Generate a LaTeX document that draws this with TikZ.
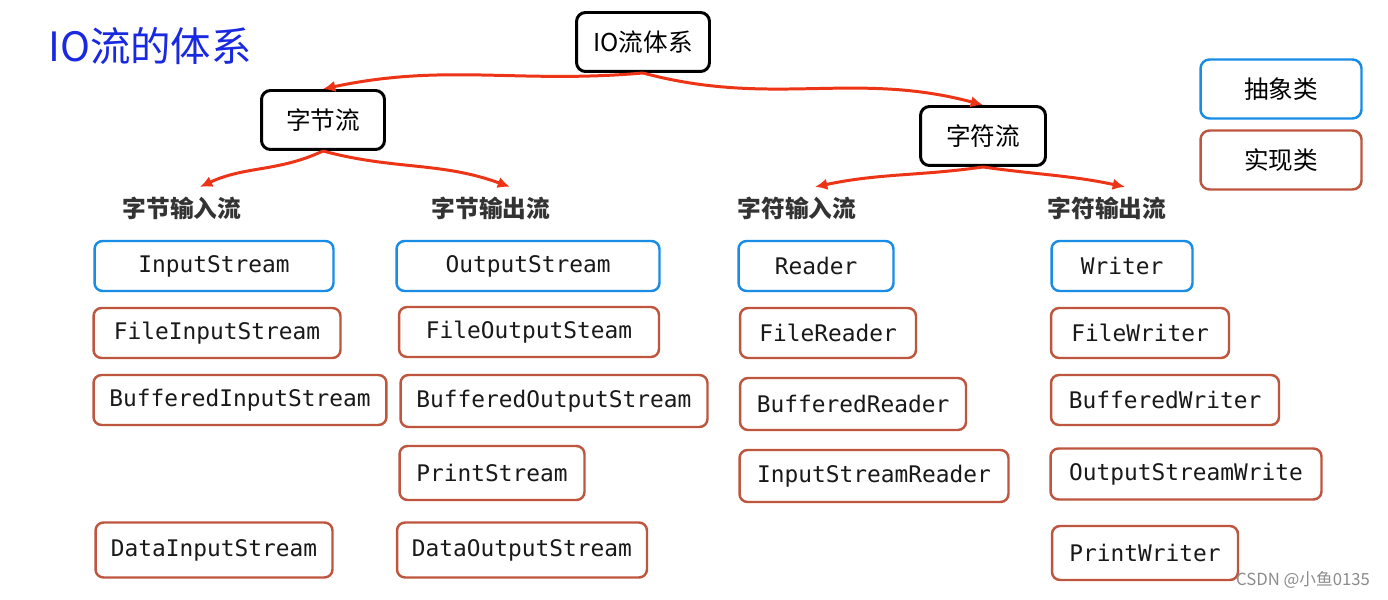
\documentclass[tikz,border=0pt]{standalone}
\usepackage{fontspec}
\setmainfont{Noto Sans CJK SC}
\setmonofont{DejaVu Sans Mono}
\usepackage{xcolor}
\usetikzlibrary{arrows.meta}
\definecolor{absblue}{RGB}{25,140,230}
\definecolor{implbrown}{RGB}{190,85,62}
\definecolor{arrowred}{RGB}{238,52,22}
\definecolor{titleblue}{RGB}{25,40,225}

\begin{document}
\begin{tikzpicture}[x=0.02cm,y=0.02cm,
	box/.style={rounded corners=0.16cm,line width=1.4pt,minimum height=1cm,text=black!90,font=\ttfamily\fontsize{13}{15}\selectfont},
	absbox/.style={box,draw=absblue},
	implbox/.style={box,draw=implbrown},
	topbox/.style={draw=black,rounded corners=0.18cm,line width=1.7pt,minimum height=1.18cm,font=\fontsize{14}{16}\selectfont},
	legendbox/.style={rounded corners=0.18cm,line width=1.4pt,minimum width=3.22cm,minimum height=1.18cm,font=\fontsize{14}{16}\selectfont},
	branch/.style={text=black!80,font=\bfseries\fontsize{13.5}{16}\selectfont},
	flow/.style={-{Latex[length=7pt,width=6.5pt]},draw=arrowred,line width=1.7pt}]
		\fill[white] (0,0) rectangle (1388,599);
		\useasboundingbox (0,0) rectangle (1388,599);
		\node[text=titleblue,font=\fontsize{23}{26}\selectfont] (title) at (150,553) {IO流的体系};
		\node[topbox,minimum width=2.66cm] (io) at (643,557) {IO流体系};
		\node[topbox,minimum width=2.46cm] (byte) at (323,479) {字节流};
		\node[topbox,minimum width=2.5cm] (char) at (983,463) {字符流};
		\node[legendbox,draw=absblue] (abs) at (1281,510) {抽象类};
		\node[legendbox,draw=implbrown] (impl) at (1281,439) {实现类};
		\node[branch] (bin) at (182,391) {字节输入流};
		\node[branch] (bout) at (491,391) {字节输出流};
		\node[branch] (cin) at (797,391) {字符输入流};
		\node[branch] (cout) at (1107,391) {字符输出流};
		\draw[flow] (io.south) to[out=185,in=12] (byte.north);
		\draw[flow] (io.south) to[out=-15,in=165] (char.north);
		\draw[flow] (byte.south) to[out=205,in=25] ([xshift=0.36cm,yshift=2pt]bin.north);
		\draw[flow] (byte.south) to[out=-15,in=160] ([xshift=0.38cm,yshift=2pt]bout.north);
		\draw[flow] (char.south) to[out=188,in=12] ([xshift=0.36cm,yshift=2pt]cin.north);
		\draw[flow] (char.south) to[out=-8,in=168] ([xshift=0.36cm,yshift=2pt]cout.north);
		\node[absbox,minimum width=4.78cm] (in) at (214,333) {InputStream};
		\node[implbox,minimum width=4.94cm] (fin) at (217,266) {FileInputStream};
		\node[implbox,minimum width=5.86cm] (bufin) at (240,199) {BufferedInputStream};
		\node[implbox,minimum width=4.74cm,minimum height=1.1cm] (din) at (214,49) {DataInputStream};
		\node[absbox,minimum width=5.26cm] (out) at (528,333) {OutputStream};
		\node[implbox,minimum width=5.2cm] (fout) at (529,267) {FileOutputSteam};
		\node[implbox,minimum width=6.14cm,minimum height=1.04cm] (bufout) at (554,198) {BufferedOutputStream};
		\node[implbox,minimum width=3.7cm,minimum height=1.08cm] (pout) at (492,126) {PrintStream};
		\node[implbox,minimum width=5cm,minimum height=1.1cm] (dout) at (522,49) {DataOutputStream};
		\node[absbox,minimum width=3.1cm] (rd) at (816,333) {Reader};
		\node[implbox,minimum width=3.52cm] (frd) at (828,266) {FileReader};
		\node[implbox,minimum width=4.52cm,minimum height=1.04cm] (bufrd) at (853,195) {BufferedReader};
		\node[implbox,minimum width=5.38cm,minimum height=1.04cm] (isrd) at (874,123) {InputStreamReader};
		\node[absbox,minimum width=2.82cm] (wr) at (1122,333) {Writer};
		\node[implbox,minimum width=3.56cm] (fwr) at (1140,266) {FileWriter};
		\node[implbox,minimum width=4.56cm] (bufwr) at (1165,199) {BufferedWriter};
		\node[implbox,minimum width=5.42cm,minimum height=1.02cm] (oswr) at (1186,125) {OutputStreamWrite};
		\node[implbox,minimum width=3.72cm,minimum height=1.08cm] (pwr) at (1145,46) {PrintWriter};
		\node[text=black!45,font=\fontsize{9.5}{11}\selectfont,anchor=east] (mark) at (1376,19) {CSDN @小鱼0135};
	\end{tikzpicture}
\end{document}
